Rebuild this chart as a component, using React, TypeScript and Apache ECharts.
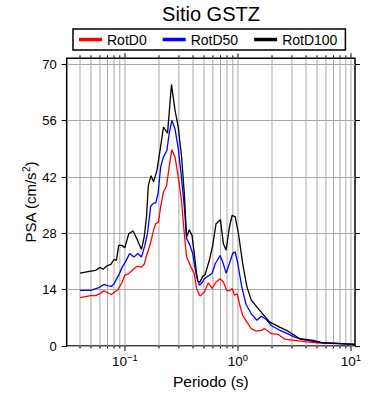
import React, { useEffect, useRef } from "react";
import * as echarts from "echarts";

const FONT = "Liberation Sans, Arial, Helvetica, sans-serif";

const titleText = "Sitio GSTZ";
const seriesNames = ["RotD0", "RotD50", "RotD100"];
const seriesColors = ["#ff0000", "#0000ff", "#000000"];

const yTicks = [0, 14, 28, 42, 56, 70];
const X_MIN = 0.0305;
const X_MAX = 10.85;
const Y_MAX = 71.5;

const gridTicks = [
  0.04, 0.05, 0.06, 0.07, 0.08, 0.09,
  0.1, 0.2, 0.3, 0.4, 0.5, 0.6, 0.7, 0.8, 0.9,
  1, 2, 3, 4, 5, 6, 7, 8, 9, 10,
];
const majorTicks = [0.1, 1, 10];

const periodD0 = [0.04, 0.0497, 0.055, 0.06, 0.065, 0.07, 0.0757, 0.081, 0.0867, 0.0945, 0.0995, 0.108, 0.118, 0.128, 0.14, 0.148, 0.155, 0.161, 0.169, 0.179, 0.187, 0.198, 0.207, 0.219, 0.233, 0.246, 0.26, 0.277, 0.296, 0.316, 0.335, 0.351, 0.384, 0.41, 0.43, 0.461, 0.504, 0.547, 0.59, 0.64, 0.694, 0.743, 0.795, 0.84, 0.888, 0.931, 0.984, 1.03, 1.1, 1.22, 1.31, 1.45, 1.61, 1.72, 1.97, 2.26, 2.59, 3.18, 4.04, 5.3, 8.0, 10.8];
const valuesD0 = [12.0, 12.5, 12.5, 13.0, 13.7, 13.3, 12.8, 13.4, 14.0, 15.9, 17.6, 18.0, 19.0, 19.8, 19.6, 20.3, 22.5, 23.8, 25.8, 28.8, 30.4, 30.8, 34.7, 38.3, 39.7, 44.5, 48.8, 47.0, 42.0, 36.2, 27.9, 22.1, 19.6, 18.0, 14.3, 12.4, 13.4, 15.7, 14.3, 15.9, 16.7, 15.9, 13.8, 13.7, 14.3, 12.6, 13.0, 10.5, 7.6, 5.6, 4.3, 3.7, 3.9, 4.3, 3.1, 2.9, 1.7, 1.4, 1.0, 0.75, 0.6, 0.4];

const periodD50 = [0.04, 0.0497, 0.0587, 0.065, 0.0697, 0.0757, 0.08, 0.088, 0.0945, 0.101, 0.11, 0.12, 0.13, 0.14, 0.15, 0.158, 0.169, 0.179, 0.187, 0.196, 0.207, 0.219, 0.235, 0.246, 0.26, 0.277, 0.296, 0.316, 0.335, 0.351, 0.376, 0.397, 0.425, 0.455, 0.48, 0.504, 0.59, 0.631, 0.694, 0.733, 0.785, 0.84, 0.9, 0.944, 0.996, 1.08, 1.18, 1.31, 1.47, 1.61, 1.78, 1.97, 2.34, 2.68, 3.18, 3.76, 5.3, 10.8];
const valuesD50 = [13.8, 13.8, 14.5, 15.3, 15.0, 14.8, 15.5, 17.6, 19.6, 20.9, 23.0, 22.1, 23.0, 22.1, 25.0, 27.9, 34.8, 35.5, 35.5, 37.9, 44.5, 47.0, 48.6, 52.8, 56.1, 54.0, 49.1, 42.0, 34.5, 26.7, 25.0, 23.0, 18.0, 15.1, 15.7, 16.7, 18.1, 20.5, 22.5, 20.9, 18.1, 20.5, 23.1, 23.4, 20.5, 14.7, 10.3, 8.0, 6.4, 7.4, 6.6, 5.1, 3.9, 3.2, 2.2, 1.6, 0.9, 0.4];

const periodD100 = [0.04, 0.0497, 0.055, 0.06, 0.064, 0.07, 0.075, 0.08, 0.084, 0.088, 0.0945, 0.0995, 0.108, 0.118, 0.127, 0.14, 0.148, 0.155, 0.161, 0.17, 0.179, 0.192, 0.204, 0.219, 0.238, 0.258, 0.277, 0.296, 0.316, 0.335, 0.351, 0.37, 0.392, 0.41, 0.439, 0.461, 0.487, 0.511, 0.558, 0.597, 0.64, 0.699, 0.743, 0.785, 0.84, 0.888, 0.944, 1.01, 1.1, 1.2, 1.31, 1.55, 1.9, 2.34, 2.68, 3.07, 3.52, 4.62, 5.67, 8.0, 10.8];
const valuesD100 = [18.1, 18.6, 18.8, 19.5, 19.1, 20.0, 20.3, 21.5, 21.3, 25.0, 25.0, 24.4, 27.9, 28.6, 26.7, 24.0, 27.1, 32.1, 39.9, 42.3, 40.8, 43.7, 48.5, 54.4, 52.9, 65.0, 58.6, 54.4, 47.4, 37.9, 27.1, 28.9, 27.5, 23.0, 16.1, 15.9, 17.3, 17.7, 21.3, 25.0, 30.4, 31.4, 25.4, 23.8, 29.6, 32.5, 32.1, 27.9, 20.5, 14.7, 11.4, 8.9, 6.0, 4.7, 3.9, 2.9, 1.8, 1.4, 0.8, 0.6, 0.4];

const periods = [periodD0, periodD50, periodD100];
const values = [valuesD0, valuesD50, valuesD100];

function isMajor(v: number) {
  return majorTicks.some((m) => Math.abs(m - v) < 1e-9);
}

export default function App() {
  const ref = useRef<HTMLDivElement>(null);
  useEffect(() => {
    if (!ref.current) return;
    const chart = echarts.init(ref.current, null, { renderer: "svg" });

    const lineSeries = seriesNames.map((name, i) => ({
      name,
      type: "line",
      xAxisIndex: 0,
      yAxisIndex: 0,
      data: periods[i].map((p, j) => [p, values[i][j]]),
      showSymbol: false,
      symbol: "none",
      smooth: false,
      color: seriesColors[i],
      lineStyle: { color: seriesColors[i], width: 1.3 },
      z: 3,
    }));

    const gridSeries = {
      type: "custom",
      name: "__grid",
      xAxisIndex: 0,
      yAxisIndex: 0,
      silent: true,
      clip: false,
      z: 1,
      data: gridTicks.map((v) => [v, isMajor(v) ? 1 : 0]),
      encode: { x: 0, y: 1 },
      renderItem: (params: any, api: any) => {
        const v = api.value(0);
        const major = api.value(1) === 1;
        const b = api.coord([v, 0]);
        const t = api.coord([v, Y_MAX]);
        return {
          type: "group",
          children: [
            {
              type: "line",
              shape: { x1: b[0], y1: b[1], x2: b[0], y2: t[1] },
              style: { stroke: "#a8a8a8", lineWidth: 1 },
            },
            {
              type: "line",
              shape: { x1: b[0], y1: b[1], x2: b[0], y2: b[1] + (major ? 5 : 2.5) },
              style: { stroke: "#000", lineWidth: 1 },
            },
            {
              type: "line",
              shape: { x1: t[0], y1: t[1], x2: t[0], y2: t[1] - (major ? 5 : 3) },
              style: { stroke: "#000", lineWidth: 1 },
            },
          ],
        };
      },
    };

    const option: any = {
      animation: false,
      backgroundColor: "#ffffff",
      textStyle: { fontFamily: FONT },
      graphic: [
        {
          type: "text",
          x: 211,
          y: 13.8,
          style: {
            text: titleText,
            fontSize: 20,
            fontFamily: FONT,
            fill: "#000",
            align: "center",
            verticalAlign: "middle",
          },
        },
      ],
      legend: {
        data: seriesNames,
        left: 73,
        top: 29,
        orient: "horizontal",
        icon: "rect",
        itemWidth: 23,
        itemHeight: 3.5,
        itemGap: 16,
        padding: [3, 8, 3, 6],
        borderColor: "#000",
        borderWidth: 1.5,
        borderRadius: 0,
        backgroundColor: "#fff",
        textStyle: { fontSize: 14, lineHeight: 15, color: "#000", fontFamily: FONT },
      },
      grid: {
        left: 66.7,
        right: 35,
        top: 58.3,
        bottom: 54,
        show: true,
        borderColor: "#000",
        borderWidth: 1.5,
        backgroundColor: "transparent",
        containLabel: false,
        outerBoundsMode: "none",
      },
      xAxis: [
        {
          type: "log",
          logBase: 10,
          min: X_MIN,
          max: X_MAX,
          position: "bottom",
          axisLine: { show: false },
          axisTick: { show: false },
          splitLine: { show: false },
          minorTick: { show: false },
          name: "Periodo (s)",
          nameLocation: "middle",
          nameGap: 27,
          nameMoveOverlap: false,
          nameTextStyle: { fontSize: 15.5, color: "#000", fontFamily: FONT },
          axisLabel: {
            show: true,
            showMinLabel: false,
            showMaxLabel: false,
            margin: 6,
            color: "#000",
            fontSize: 13,
            fontFamily: FONT,
            formatter: (v: number) => {
              const l = Math.log10(v);
              const e = Math.round(l);
              if (Math.abs(l - e) > 1e-6) return "";
              const s = e < 0 ? "\u2212" + -e : String(e);
              return "{base|10}{sup|" + s + "}";
            },
            rich: {
              base: { fontSize: 13.5, verticalAlign: "bottom", color: "#000", fontFamily: FONT },
              sup: { fontSize: 9.5, verticalAlign: "bottom", padding: [0, 0, 6, 0], color: "#000", fontFamily: FONT },
            },
          },
        },
      ],
      yAxis: [
        {
          type: "value",
          min: 0,
          max: Y_MAX,
          interval: 14,
          position: "left",
          axisLine: { show: false },
          axisTick: { show: true, inside: false, length: 5, customValues: yTicks, lineStyle: { color: "#000", width: 1 } },
          axisLabel: {
            show: true,
            customValues: yTicks,
            margin: 10,
            color: "#000",
            fontSize: 13,
            fontFamily: FONT,
          },
          splitLine: { show: true, lineStyle: { color: "#a8a8a8", width: 1 } },
          name: "{base|PSA (cm/s}{sup|2}{base|)}",
          nameLocation: "middle",
          nameGap: 29,
          nameRotate: 90,
          nameMoveOverlap: false,
          nameTextStyle: {
            fontSize: 15,
            color: "#000",
            fontFamily: FONT,
            rich: {
              base: { fontSize: 15, verticalAlign: "bottom", color: "#000", fontFamily: FONT },
              sup: { fontSize: 10, verticalAlign: "bottom", padding: [0, 0, 6, 0], color: "#000", fontFamily: FONT },
            },
          },
        },
        {
          type: "value",
          min: 0,
          max: Y_MAX,
          interval: 14,
          position: "right",
          axisLine: { show: false },
          axisTick: { show: true, inside: false, length: 5, customValues: yTicks, lineStyle: { color: "#000", width: 1 } },
          axisLabel: { show: false },
          splitLine: { show: false },
        },
      ],
      series: [gridSeries, ...lineSeries],
    };

    chart.setOption(option);
    return () => {
      chart.dispose();
    };
  }, []);

  return (
    <div
      ref={ref}
      style={{ position: "fixed", left: 0, top: 0, width: 390, height: 400 }}
    />
  );
}
